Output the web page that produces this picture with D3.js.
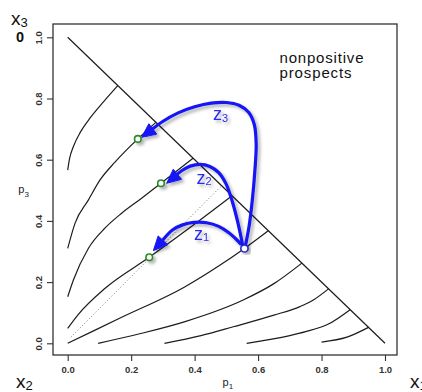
<!DOCTYPE html>
<html><head><meta charset="utf-8">
<script src="https://cdn.jsdelivr.net/npm/d3@7"></script>
<style>body{margin:0;background:#fff}svg{display:block}</style>
</head><body>
<script>
// Axis ticks
const xTicks = [0, 0.2, 0.4, 0.6, 0.8, 1.0];
const yTicks = [0, 0.2, 0.4, 0.6, 0.8, 1.0];

// Indifference curves in the probability triangle, points are [p1, p3]
const curveA = [[0,0.566],[0.006,0.604],[0.018,0.643],[0.040,0.690],[0.072,0.738],[0.112,0.788],[0.158,0.842]];
const curveB = [[0,0.31],[0.023,0.392],[0.065,0.468],[0.102,0.534],[0.149,0.592],[0.221,0.668],[0.278,0.722]];
const curveC = [[0,0.152],[0.018,0.207],[0.065,0.310],[0.118,0.377],[0.170,0.425],[0.233,0.474],[0.294,0.523],[0.395,0.605]];
const curveD = [[0,0.049],[0.033,0.094],[0.118,0.180],[0.257,0.281],[0.375,0.370],[0.518,0.482]];
const curveE = [[0,0],[0.17,0.085],[0.37,0.185],[0.46,0.242],[0.557,0.310],[0.632,0.368]];
const curveF = [[0.096,0],[0.23,0.032],[0.37,0.071],[0.553,0.1415],[0.65,0.195],[0.738,0.262]];
const curveG = [[0.305,0],[0.42,0.025],[0.522,0.054],[0.65,0.092],[0.732,0.120],[0.774,0.1415],[0.822,0.178]];
const curveH = [[0.564,0],[0.70,0.025],[0.75,0.038],[0.82,0.062],[0.89,0.110]];
const curveI = [[0.80,0.004],[0.88,0.02],[0.948,0.052]];
const curves = [curveA, curveB, curveC, curveD, curveE, curveF, curveG, curveH, curveI];

// Triangle hypotenuse and the dotted reference ray
const hypotenuse = [[0,1],[1,0]];
const dottedRay = [[0.01,0.02],[0.485,0.515]];

// Starting prospect and the three target prospects
const startPoint = [0.557, 0.310];
const targetPoints = [[0.257,0.281],[0.294,0.523],[0.221,0.668]];

// Arrow paths from the start prospect, with their tips
const arrowPath1 = [[0.545,0.325],[0.535,0.336],[0.508,0.361],[0.476,0.382],[0.438,0.394],[0.398,0.395],[0.362,0.387],[0.330,0.370]];
const arrowPath2 = [[0.551,0.323],[0.535,0.400],[0.518,0.466],[0.499,0.521],[0.476,0.558],[0.448,0.578],[0.417,0.585],[0.386,0.579],[0.359,0.564]];
const arrowPath3 = [[0.560,0.318],[0.572,0.385],[0.582,0.470],[0.590,0.566],[0.594,0.650],[0.588,0.715],[0.570,0.755],[0.540,0.778],[0.500,0.787],[0.452,0.785],[0.400,0.773],[0.348,0.753],[0.298,0.724]];
const arrowTips = [[0.270,0.303],[0.312,0.523],[0.233,0.673]];
const arrowNames = ["1","2","3"];

const W = 422, H = 392;
const svg = d3.select("body").append("svg").attr("width", W).attr("height", H);

const defs = svg.append("defs");
const f = defs.append("filter").attr("id","shadow").attr("x","-20%").attr("y","-20%").attr("width","150%").attr("height","150%");
f.append("feDropShadow").attr("dx",2.5).attr("dy",2.5).attr("stdDeviation",1.8)
  .attr("flood-color","#000").attr("flood-opacity",0.3);

const x = d3.scaleLinear().domain([0,1]).range([67.7,385]);
const y = d3.scaleLinear().domain([0,1]).range([343.3,37.3]);

const font = "'Liberation Sans', Arial, Helvetica, sans-serif";
const ink = "#1c1c1c";

// Frame
svg.append("rect").attr("x",53).attr("y",24).attr("width",344).attr("height",331)
  .attr("fill","none").attr("stroke","#333").attr("stroke-width",1.3);

// Axes
const xAxis = d3.axisBottom(x).tickValues(xTicks).tickSize(6).tickFormat(d3.format(".1f"));
const gx = svg.append("g").attr("transform","translate(0,355)").call(xAxis);
gx.select(".domain").remove();
gx.selectAll("line").attr("stroke","#333").attr("stroke-width",1.1);
gx.selectAll("text").attr("y",11).attr("font-family",font).attr("font-size",9.5)
  .attr("font-weight","bold").attr("fill","#333");

const yAxis = d3.axisLeft(y).tickValues(yTicks).tickSize(6).tickFormat(d3.format(".1f"));
const gy = svg.append("g").attr("transform","translate(53,0)").call(yAxis);
gy.select(".domain").remove();
gy.selectAll("line").attr("stroke","#333").attr("stroke-width",1.1);
gy.selectAll("text").attr("x",0).attr("dy",0).attr("text-anchor","middle")
  .attr("transform","translate(-11.5,0) rotate(-90)")
  .attr("font-family",font).attr("font-size",9.5).attr("font-weight","bold").attr("fill","#333");

// Axis titles
const p1 = svg.append("text").attr("x",222.5).attr("y",385.5).attr("font-family",font).attr("font-size",11).attr("fill",ink);
p1.append("tspan").text("p");
p1.append("tspan").attr("font-size",8).attr("dy",3).text("1");
const p3 = svg.append("text").attr("x",18.3).attr("y",192.5).attr("font-family",font).attr("font-size",11).attr("fill",ink);
p3.append("tspan").text("p");
p3.append("tspan").attr("font-size",8).attr("dy",4.5).text("3");

// Corner outcome labels
function corner(px, py, main, sub){
  const t = svg.append("text").attr("x",px).attr("y",py).attr("font-family",font).attr("font-size",19).attr("fill","#111");
  t.append("tspan").text(main);
  t.append("tspan").attr("font-size",13).attr("dy",2).text(sub);
}
corner(11, 25, "x", "3");
corner(16, 387.5, "x", "2");
corner(410, 387.5, "x", "1");
svg.append("text").attr("x",16).attr("y",41.8).attr("font-family",font).attr("font-size",14.5)
  .attr("font-weight","bold").attr("fill","#111").text("0");

// Region note
const note = svg.append("text").attr("font-family",font).attr("font-size",15).attr("fill","#111");
note.append("tspan").attr("x",279.5).attr("y",62.5).attr("textLength",84).text("nonpositive");
note.append("tspan").attr("x",279.5).attr("y",78).attr("textLength",72).text("prospects");

const line = d3.line().x(d => x(d[0])).y(d => y(d[1]));
const smooth = d3.line().x(d => x(d[0])).y(d => y(d[1])).curve(d3.curveMonotoneX);

// Hypotenuse
svg.append("path").attr("d", line(hypotenuse)).attr("fill","none").attr("stroke",ink).attr("stroke-width",1.2);

// Dotted ray
svg.append("path").attr("d", line(dottedRay)).attr("fill","none").attr("stroke","#777")
  .attr("stroke-width",1).attr("stroke-dasharray","1,2.2");

// Indifference curves
svg.append("g").selectAll("path").data(curves).join("path")
  .attr("d", d => smooth(d)).attr("fill","none").attr("stroke",ink).attr("stroke-width",1.2);

// Arrows
const blue = "#1414f5";
const arrowLayer = svg.append("g").attr("filter","url(#shadow)");
[arrowPath1, arrowPath2, arrowPath3].forEach((pts, i) => {
  const tip = arrowTips[i];
  const tx = x(tip[0]), ty = y(tip[1]);
  const last = pts[pts.length-1];
  const lx = x(last[0]), ly = y(last[1]);
  const dx = tx - lx, dy = ty - ly, d = Math.hypot(dx, dy);
  const ux = dx / d, uy = dy / d;
  const L = 14, HW = 6.5;
  const bx = tx - ux * L, by = ty - uy * L;
  const full = pts.map(p => [x(p[0]), y(p[1])]).concat([[bx + ux * 3, by + uy * 3]]);
  arrowLayer.append("path")
    .attr("d", d3.line().curve(d3.curveCatmullRom.alpha(0.5))(full))
    .attr("fill","none").attr("stroke",blue).attr("stroke-width",3.2).attr("stroke-linecap","round");
  arrowLayer.append("path")
    .attr("d", `M${tx},${ty}L${bx - uy*HW},${by + ux*HW}L${bx + uy*HW},${by - ux*HW}Z`)
    .attr("fill",blue).attr("stroke",blue).attr("stroke-width",1).attr("stroke-linejoin","round");
});

// Arrow labels
const labelPos = [[194, 239.5], [196.5, 183.5], [213, 120]];
labelPos.forEach((p, i) => {
  const t = svg.append("text").attr("x",p[0]).attr("y",p[1]).attr("font-family",font)
    .attr("font-size",18).attr("fill","#2b2bf0").attr("filter","url(#shadow)");
  t.append("tspan").text("z");
  t.append("tspan").attr("font-size",11).attr("dy",1.5).text(arrowNames[i]);
});

// Prospect markers
svg.append("g").attr("filter","url(#shadow)").selectAll("circle").data(targetPoints).join("circle")
  .attr("cx", d => x(d[0])).attr("cy", d => y(d[1])).attr("r",3.3)
  .attr("fill","#fff").attr("stroke","#2a8a2a").attr("stroke-width",1.6);
svg.append("circle").attr("filter","url(#shadow)")
  .attr("cx", x(startPoint[0])).attr("cy", y(startPoint[1])).attr("r",3.6)
  .attr("fill","#fff").attr("stroke","#2424c8").attr("stroke-width",1.6);
</script>
</body></html>
